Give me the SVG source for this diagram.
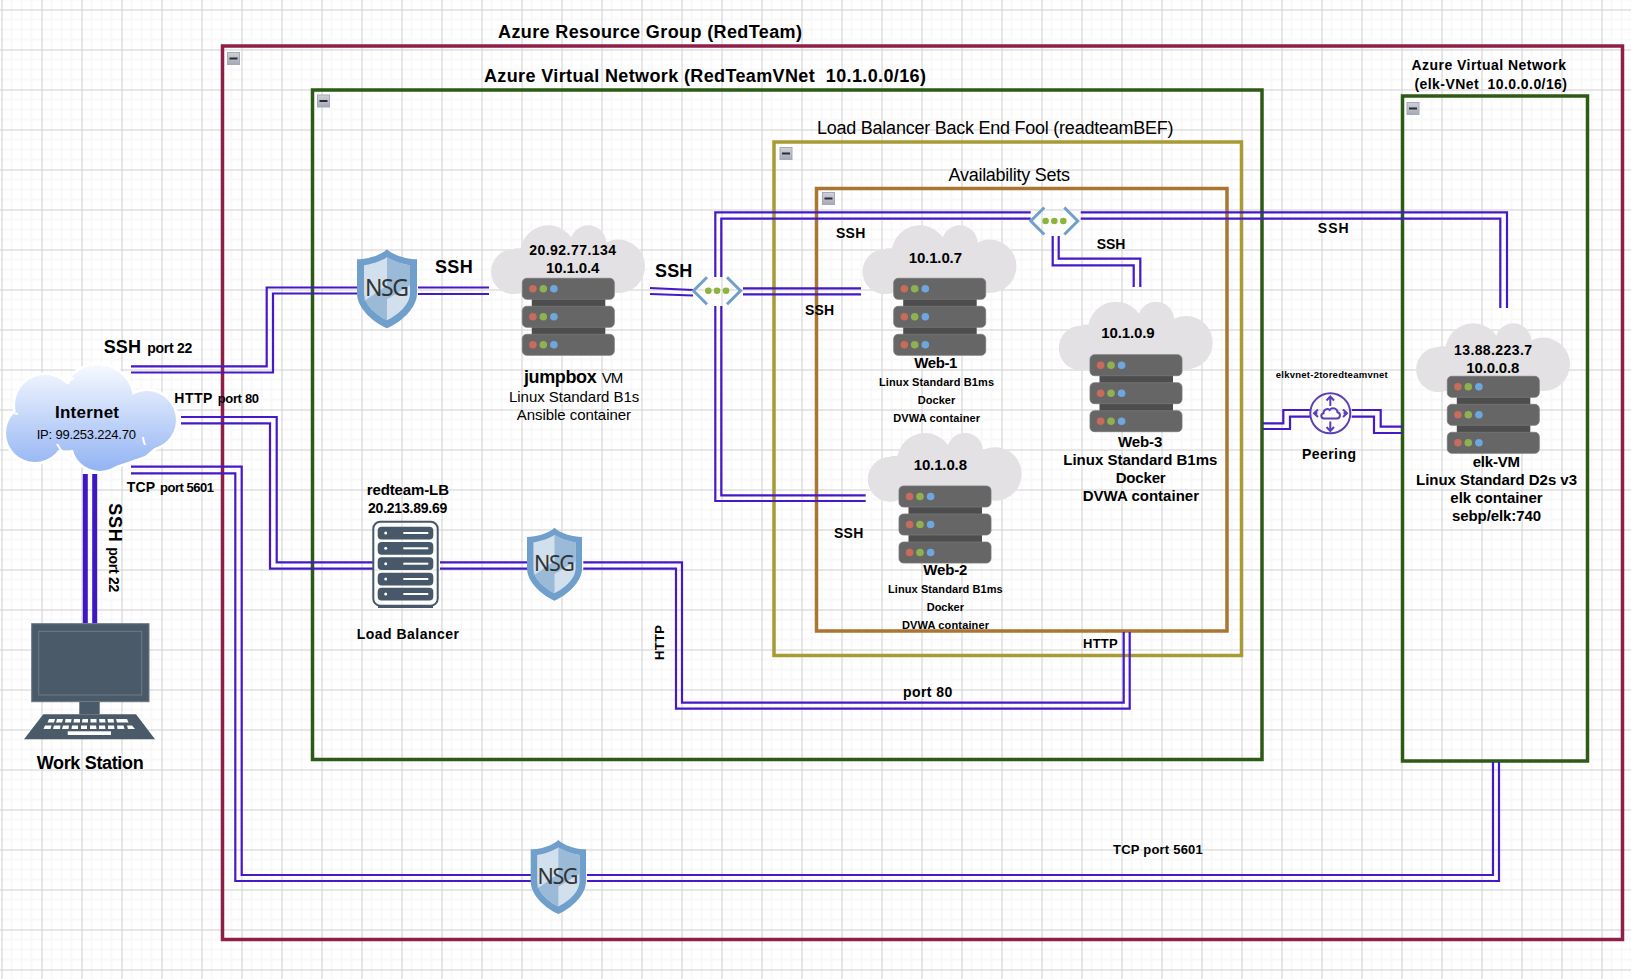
<svg xmlns="http://www.w3.org/2000/svg" width="1631" height="979" viewBox="0 0 1631 979">
<style>
text{font-family:"Liberation Sans",Arial,sans-serif;fill:#000}
.b{font-weight:700}
.s18{font-size:18px}.s17{font-size:17px}.s15{font-size:15px}.s14{font-size:14px}.s13{font-size:13px}.s11{font-size:11px}.s10{font-size:9.5px}
.box{fill:none;stroke-width:3.5}
.c{fill:none;stroke:#4518c8;stroke-width:2.2}
.w{fill:none;stroke:#3f18c0;stroke-width:5}
.nsgt{font-family:"Noto Sans","Open Sans",sans-serif;fill:#333}
.k{fill:#fff}
.pi{fill:none;stroke:#5b3fb4;stroke-width:2}
</style>
<defs>
<pattern id="grid" width="40" height="40" patternUnits="userSpaceOnUse" x="1.5" y="9.5">
<path d="M10 0V40M20 0V40M30 0V40M0 10H40M0 20H40M0 30H40" stroke="#f8f8f8" stroke-width="2" fill="none"/>
<path d="M0 0V40M0 0H40" stroke="#cfcfcf" stroke-width="2" fill="none"/>
</pattern>
<linearGradient id="cl" gradientUnits="userSpaceOnUse" x1="0" y1="365" x2="0" y2="471"><stop offset="0" stop-color="#f6f9ff"/><stop offset="1" stop-color="#92b3f3"/></linearGradient>
<linearGradient id="mn" x1="0" y1="0" x2="0" y2="1"><stop offset="0" stop-color="#cfd2da"/><stop offset="1" stop-color="#a4a9b8"/></linearGradient>
<g id="minus"><rect x="-6" y="-6" width="12" height="12" fill="url(#mn)" stroke="#a6aab8"/><rect x="-4" y="-1" width="8" height="2" fill="#2c2c2c"/></g>
<g id="vm">
<g fill="#e3e1e4"><circle cx="-8.7" cy="-6.7" r="22.5"/><circle cx="26" cy="-25" r="28"/><circle cx="66" cy="-35" r="18"/><circle cx="96" cy="-12" r="26.7"/><rect x="-8" y="-30" width="104" height="44"/></g>
<rect x="9.5" y="19" width="73.5" height="11" fill="#4d4d4d"/><rect x="9.5" y="47" width="73.5" height="11" fill="#4d4d4d"/>
<g fill="#666" stroke="#777" stroke-width=".8"><rect x="0" y="0" width="92" height="21" rx="4.5"/><rect x="0" y="28" width="92" height="21" rx="4.5"/><rect x="0" y="56" width="92" height="21" rx="4.5"/></g>
<g fill="#c96b5c"><circle cx="10.6" cy="10.5" r="3.8"/><circle cx="10.6" cy="38.5" r="3.8"/><circle cx="10.6" cy="66.5" r="3.8"/></g>
<g fill="#8fb14f"><circle cx="21" cy="10.5" r="3.8"/><circle cx="21" cy="38.5" r="3.8"/><circle cx="21" cy="66.5" r="3.8"/></g>
<g fill="#6ea7dd"><circle cx="31.6" cy="10.5" r="3.8"/><circle cx="31.6" cy="38.5" r="3.8"/><circle cx="31.6" cy="66.5" r="3.8"/></g>
</g>
<g id="shield">
<path d="M30 0C36 6 50 10 60 10V44C60 60 42 74 30 79C18 74 0 60 0 44V10C10 10 24 6 30 0Z" fill="#6f9fca"/>
<path d="M30 8C36 12 46 15 53 16V44C53 56 40 66 30 71C20 66 7 56 7 44V16C14 15 24 12 30 8Z" fill="#d2e0ee"/>
<path d="M30 8C36 12 46 15 53 16V36L30 50ZM30 71C20 66 7 56 7 44V52L30 36Z" fill="#9abad8"/>
</g>
<g id="hub">
<path d="M-10 -13.5L-23.5 0L-10 13.5M10 -13.5L23.5 0L10 13.5" fill="none" stroke="#6f9fca" stroke-width="3"/>
<g fill="#8cb43c"><circle cx="-8.7" cy="0" r="3.3"/><circle cx="0" cy="0" r="3.3"/><circle cx="9" cy="0" r="3.3"/></g>
</g>
</defs>
<rect width="1631" height="979" fill="#fff"/>
<rect width="1631" height="979" fill="url(#grid)"/>

<g id="containers">
<g id="resource-group"><rect class="box" x="222.5" y="46" width="1400" height="893.5" stroke="#8f1f47"/><use href="#minus" x="233.5" y="58.5"/><text class="b s18" x="498" y="38" textLength="304">Azure Resource Group (RedTeam)</text></g>
<g id="vnet-red"><rect class="box" x="312.5" y="90" width="949.5" height="669.5" stroke="#2d5a14"/><use href="#minus" x="323.5" y="101"/><text class="b s18" x="484" y="81.5" textLength="442">Azure Virtual Network (RedTeamVNet &#160;10.1.0.0/16)</text></g>
<g id="backend-pool"><rect class="box" x="774" y="142" width="467.5" height="513.5" stroke="#a89a35"/><use href="#minus" x="786" y="153.5"/><text class="s18" x="817" y="134" textLength="356.500">Load Balancer Back End Fool (readteamBEF)</text></g>
<g id="availability-sets"><rect class="box" x="816.500" y="188.500" width="410.500" height="442.500" stroke="#aa7530"/><use href="#minus" x="828.500" y="198.500"/><text class="s18" x="948.500" y="180.500" textLength="121.500">Availability Sets</text></g>
<g id="vnet-elk"><rect class="box" x="1402.500" y="96" width="185" height="665" stroke="#2d5a14"/><use href="#minus" x="1413" y="108.500"/><text class="b s14" x="1411.500" y="69.700" textLength="154.500">Azure Virtual Network</text><text class="b s14" x="1414.500" y="89" textLength="152.500">(elk-VNet &#160;10.0.0.0/16)</text></g>
</g>

<g id="connectors">
<path class="c" d="M131 366.300H266.700V287.500H357M131 372.500H273V293.500H357"/>
<path class="c" d="M418 287.500H489M418 294H489"/>
<path class="c" d="M650 288L693 290M650 294L693 295.500"/>
<path class="c" d="M743 288.300H861M743 294.300H861"/>
<path class="c" d="M715.300 277V212.300H1030.700M721.300 277V218.700H1030.700"/>
<path class="c" d="M715.300 306V501H865.700M721.300 306V495.300H865.700"/>
<path class="c" d="M1080.700 212.300H1507V308M1080.700 218.700H1500.300V308"/>
<path class="c" d="M1052.700 236V265.300H1133.700V287M1058.700 236V258.700H1140.300V287"/>
<path class="c" d="M181 417H276.700V562.300H373M181 423.300H270V568.700H373"/>
<path class="c" d="M440 562.300H528M440 568.700H528"/>
<path class="c" d="M583.300 562.300H682V702.700H1123.700V632M583.300 568.700H676V708.700H1129.700V632"/>
<path class="c" d="M131 466.700H241.700V875H532M131 473.300H235.300V881H532"/>
<path class="c" d="M587 875H1493V762M587 881H1499V762"/>
<path class="w" d="M85.300 474V623.500M94.700 474V623.500"/>
<path class="c" d="M1263 423.300H1283.300V410H1310M1263 429H1290V416.700H1310"/>
<path class="c" d="M1351.700 410H1380.700V426.700H1402.700M1351.700 416.700H1374V433H1402.700"/>
</g>

<g id="labels">
<text class="b s18" x="103.700" y="353.300" textLength="37.300">SSH</text><text class="b s14" x="147.300" y="353.300" textLength="45">port 22</text>
<text class="b s18" x="435" y="272.700" textLength="37.700">SSH</text>
<text class="b s18" x="655" y="276.700" textLength="37.300">SSH</text>
<text class="b s14" x="805" y="314.700" textLength="29">SSH</text>
<text class="b s14" x="836" y="238.300" textLength="29.300">SSH</text>
<text class="b s14" x="1096.700" y="249" textLength="28.600">SSH</text>
<text class="b s14" x="1317.700" y="232.700" textLength="31">SSH</text>
<text class="b s14" x="834" y="537.700" textLength="29.300">SSH</text>
<text class="b s14" x="174.300" y="403.300" textLength="38">HTTP</text><text class="b s13" x="217.700" y="403.300" textLength="41.300">port 80</text>
<text class="b s14" x="126.700" y="491.700" textLength="28.300">TCP</text><text class="b s13" x="160" y="491.700" textLength="54">port 5601</text>
<text class="b s18" transform="translate(108.500 503.300) rotate(90)" textLength="38.400">SSH</text>
<text class="b s14" transform="translate(109 547.300) rotate(90)" textLength="45">port 22</text>
<text class="b s13" transform="translate(664 660) rotate(-90)" textLength="35">HTTP</text>
<text class="b s13" x="1083" y="647.700" textLength="34.700">HTTP</text>
<text class="b s14" x="903" y="696.700" textLength="49.300">port 80</text>
<text class="b s13" x="1113" y="854.300" textLength="89.800">TCP port 5601</text>
</g>

<g id="internet">
<g fill="#fff" stroke="#fff" stroke-width="5"><circle cx="45" cy="405" r="30"/><circle cx="98" cy="400" r="35"/><circle cx="147" cy="420" r="29"/><circle cx="100" cy="443" r="28"/><circle cx="35" cy="433" r="29"/><path d="M110 468L145 456L170 435V410H110Z"/></g>
<g fill="url(#cl)"><rect x="35" y="400" width="115" height="50"/><circle cx="45" cy="405" r="30"/><circle cx="98" cy="400" r="35"/><circle cx="147" cy="420" r="29"/><circle cx="100" cy="443" r="28"/><circle cx="35" cy="433" r="29"/><path d="M110 468L145 456L170 435V410H110Z"/></g>
<path d="M57 444q7 13 20 18M68 384q2-5 6-6M138 388q0-4 0-8M145 445q-2-5-2-8M6 412q3 0 12 2" fill="none" stroke="#fff" stroke-width="2"/>
<text class="b s17" x="55" y="417.700" textLength="64">Internet</text>
<text class="s13" x="36.700" y="439" textLength="99.300">IP: 99.253.224.70</text>
</g>

<g id="workstation">
<rect x="31.700" y="623.700" width="117.300" height="78" fill="#4a5a68" stroke="#6b7883"/>
<rect x="38.700" y="631.300" width="103" height="63.700" fill="none" stroke="#6f7b85"/>
<rect x="79.300" y="702" width="20.400" height="12.300" fill="#4a5a68"/>
<path d="M43.300 714.300H136L155 739.300H24Z" fill="#4a5a68"/>
<g class="k"><path d="M49 719h6l-1 3.500h-6.500zM57 719h6l-1 3.500h-6zM65.500 719h6l-.5 3.500h-6zM74 719h6v3.500h-6.500zM82.500 719h5.500v3.500h-6zM90.500 719h6v3.500h-6zM99 719h6l.5 3.500h-6zM107.500 719h6l.5 3.500h-6zM116 719h6l1 3.500h-6zM121 719h6l1.500 3.500h-6z"/>
<path d="M45 725.500h6.500l-1 3.500h-7zM54 725.500h6.500l-.5 3.500h-7zM63 725.500h6l-.5 3.500h-6.500zM72 725.500h6v3.500h-6.500zM81 725.500h6v3.500h-6zM90 725.500h6l.5 3.500h-6.500zM99 725.500h6l.5 3.500h-6.500zM108 725.500h6l.5 3.500h-6.500zM117 725.500h6.500l1 3.500h-7zM127 725.500h5l3 3.500h-7z"/>
<rect x="67.700" y="731.300" width="43.300" height="3.700"/></g>
<text class="b s18" x="36.700" y="769.300" textLength="107">Work Station</text>
</g>

<g id="nsg-1"><use href="#shield" x="357" y="249.300"/><text class="nsgt" x="387" y="296" font-size="23" text-anchor="middle" textLength="44">NSG</text></g>
<g id="nsg-2"><use href="#shield" transform="translate(527 527.700) scale(.917 .924)"/><text class="nsgt" x="554.500" y="571" font-size="21.500" text-anchor="middle" textLength="41">NSG</text></g>
<g id="nsg-3"><use href="#shield" transform="translate(530.700 840) scale(.922 .937)"/><text class="nsgt" x="558" y="884" font-size="21.500" text-anchor="middle" textLength="41">NSG</text></g>

<g id="jumpbox"><use href="#vm" x="522.300" y="278.300"/>
<text class="b s14" x="529.300" y="255" textLength="86.700">20.92.77.134</text>
<text class="b s15" x="546" y="273.300" textLength="53.300">10.1.0.4</text>
<text class="b s18" x="524" y="382.700" textLength="72.700">jumpbox</text><text class="s15" x="601.700" y="382.700" textLength="21.600" fill="#333">VM</text>
<text class="s15" x="509" y="402" textLength="130.300">Linux Standard B1s</text>
<text class="s15" x="516.700" y="420" textLength="114.300">Ansible container</text></g>

<g id="web-1"><use href="#vm" x="893.700" y="278.300"/>
<text class="b s15" x="908.700" y="263" textLength="53.300">10.1.0.7</text>
<text class="b s15" x="914.300" y="367.700" textLength="43">Web-1</text>
<text class="b s11" x="879" y="386" textLength="115">Linux Standard B1ms</text>
<text class="b s11" x="917.700" y="404" textLength="37.600">Docker</text>
<text class="b s11" x="893.300" y="422" textLength="86.700">DVWA container</text></g>

<g id="web-3"><use href="#vm" x="1090" y="354.700"/>
<text class="b s15" x="1101.300" y="338" textLength="53.400">10.1.0.9</text>
<text class="b s15" x="1118" y="447" textLength="44.300">Web-3</text>
<text class="b s15" x="1063.300" y="465" textLength="154">Linux Standard B1ms</text>
<text class="b s15" x="1115.700" y="483" textLength="50">Docker</text>
<text class="b s15" x="1082.700" y="501" textLength="116.300">DVWA container</text></g>

<g id="web-2"><use href="#vm" x="899" y="486"/>
<text class="b s15" x="913.700" y="470" textLength="53.300">10.1.0.8</text>
<text class="b s15" x="923.300" y="575" textLength="44">Web-2</text>
<text class="b s11" x="888" y="592.700" textLength="114.700">Linux Standard B1ms</text>
<text class="b s11" x="926.700" y="610.700" textLength="37.300">Docker</text>
<text class="b s11" x="902" y="629" textLength="87">DVWA container</text></g>

<g id="elk-vm"><use href="#vm" x="1447.300" y="376.300"/>
<text class="b s14" x="1454" y="355" textLength="78">13.88.223.7</text>
<text class="b s15" x="1466.300" y="372.700" textLength="53">10.0.0.8</text>
<text class="b s15" x="1472.700" y="467" textLength="47.300">elk-VM</text>
<text class="b s15" x="1416" y="485" textLength="161">Linux Standard D2s v3</text>
<text class="b s15" x="1450.300" y="503" textLength="92.400">elk container</text>
<text class="b s15" x="1452" y="521" textLength="89">sebp/elk:740</text></g>

<g id="load-balancer">
<rect x="373.300" y="521.700" width="64.400" height="84" rx="7" fill="#fff" fill-opacity=".3" stroke="#47586a" stroke-width="2"/>
<path d="M378 605H433V608H378Z" fill="#47586a"/>
<g fill="#47586a"><rect x="377.700" y="526.700" width="55.600" height="12.700" rx="4"/><rect x="377.700" y="542" width="55.600" height="12.700" rx="4"/><rect x="377.700" y="557.300" width="55.600" height="12.700" rx="4"/><rect x="377.700" y="572.700" width="55.600" height="12.700" rx="4"/><rect x="377.700" y="587.700" width="55.600" height="12.700" rx="4"/></g>
<g class="k"><circle cx="385.700" cy="533" r="1.500"/><rect x="403.300" y="532" width="25" height="2"/><circle cx="385.700" cy="548.300" r="1.500"/><rect x="403.300" y="547.300" width="25" height="2"/><circle cx="385.700" cy="563.700" r="1.500"/><rect x="403.300" y="562.700" width="25" height="2"/><circle cx="385.700" cy="579" r="1.500"/><rect x="403.300" y="578" width="25" height="2"/><circle cx="385.700" cy="594" r="1.500"/><rect x="403.300" y="593" width="25" height="2"/></g>
<text class="b s15" x="366.700" y="494.700" textLength="82.300">redteam-LB</text>
<text class="b s14" x="368" y="512.700" textLength="79.300">20.213.89.69</text>
<text class="b s14" x="356.700" y="638.700" textLength="102.300">Load Balancer</text>
</g>

<g id="hub-1"><use href="#hub" x="717" y="290.700"/></g>
<g id="hub-2"><use href="#hub" x="1054.300" y="221"/></g>

<g id="peering">
<circle class="pi" cx="1330.300" cy="413.300" r="20"/>
<path class="pi" d="M1323.500 418.500h13.500a3.200 3.200 0 0 0 .5-6.300a4.300 4.300 0 0 0-7.800-2.200a3.800 3.800 0 0 0-6.200 3.200a2.700 2.700 0 0 0 0 5.300z" stroke-width="1.500"/>
<path class="pi" d="M1330.300 406V397M1326.500 400.500L1330.300 396.500L1334 400.500M1330.300 421.500V431M1326.500 427L1330.300 431L1334 427M1317.500 413.300H1314M1318 409.500L1314 413.300L1318 417M1343.500 413.300H1347M1343 409.500L1347 413.300L1343 417"/>
<text class="b s10" x="1275.700" y="377.700" textLength="112">elkvnet-2toredteamvnet</text>
<text class="b s14" x="1302" y="459" textLength="54">Peering</text>
</g>
</svg>
